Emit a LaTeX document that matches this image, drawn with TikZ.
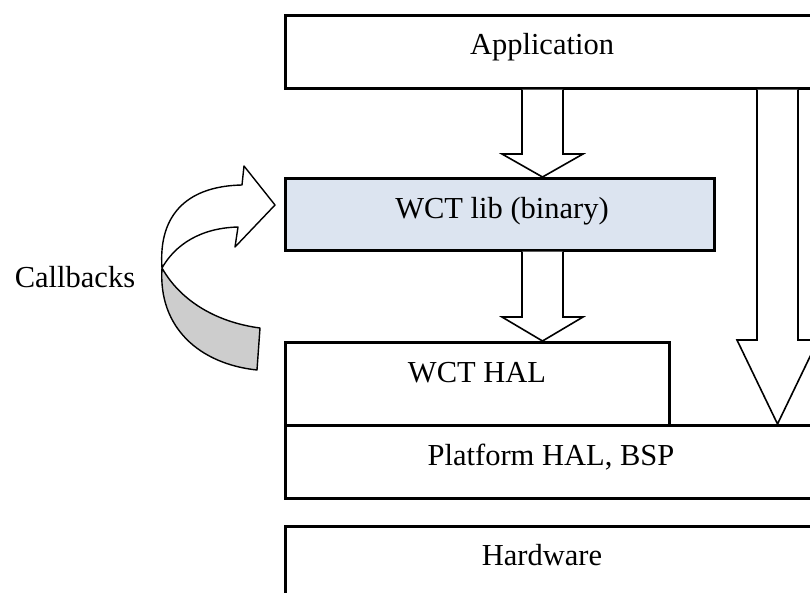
\documentclass[tikz,border=0pt]{standalone}
\usepackage{fontspec}
\setmainfont{Liberation Serif}
\begin{document}
\begin{tikzpicture}[x=1pt,y=-1pt,
  box/.style={draw=black, line width=2.5pt, fill=white, anchor=north west, inner sep=0pt},
  lbl/.style={anchor=base, inner sep=0pt, font=\fontsize{30.5}{36}\selectfont},
  blockarrow/.style={draw=black, line width=1.6pt, fill=white, line join=miter},
  ribbon/.style={draw=black, line width=1.4pt, line join=round}]
\clip (0,0) rectangle (810,592);
\fill[white] (0,0) rectangle (810,592);
% layer boxes
\node[box, minimum width=546pt, minimum height=73pt] (app) at (284,14) {};
\node[box, fill={rgb,255:red,220;green,228;blue,240}, minimum width=429pt, minimum height=72pt] (lib) at (284,177) {};
\node[box, minimum width=546pt, minimum height=73pt] (plat) at (284,424) {};
\node[box, minimum width=384pt, minimum height=83pt] (hal) at (284,341) {};
\node[box, minimum width=546pt, minimum height=100pt] (hw) at (284,525) {};
% block arrows
\coordinate (t1) at (542.5,177);
\coordinate (t2) at (542.5,341);
\coordinate (t3) at (777.5,424);
\draw[blockarrow] (522,0 |- app.south) -- (522,154) -- (502,154) -- (t1) -- (583,154) -- (563,154) -- (563,0 |- app.south);
\draw[blockarrow] (522,0 |- lib.south) -- (522,317) -- (502,317) -- (t2) -- (583,317) -- (563,317) -- (563,0 |- lib.south);
\draw[blockarrow] (757,0 |- app.south) -- (757,340) -- (737,340) -- (t3) -- (818,340) -- (798,340) -- (798,0 |- app.south);
% callback ribbon arrow
\coordinate (tw) at (162,268);
\coordinate (cbtip) at (275,205);
\filldraw[ribbon, fill={rgb,255:red,205;green,205;blue,205}]
  (tw) .. controls (180,300) and (215,322) .. (260,328) -- (257,370)
  .. controls (200,364) and (158,328) .. (tw) -- cycle;
\filldraw[ribbon, fill=white]
  (tw) .. controls (158,212) and (190,186) .. (242,185) -- (244,166) -- (cbtip)
  -- (235,247) -- (238,227) .. controls (200,228) and (175,245) .. (tw) -- cycle;
% labels
\node[lbl] (tapp) at (542,54) {Application};
\node[lbl] (tlib) at (502,218) {WCT lib (binary)};
\node[lbl] (thal) at (477,382) {WCT HAL};
\node[lbl] (tplat) at (551,465) {Platform HAL, BSP};
\node[lbl] (thw) at (542,565) {Hardware};
\node[lbl] (tcb) at (75,287) {Callbacks};
\end{tikzpicture}
\end{document}
